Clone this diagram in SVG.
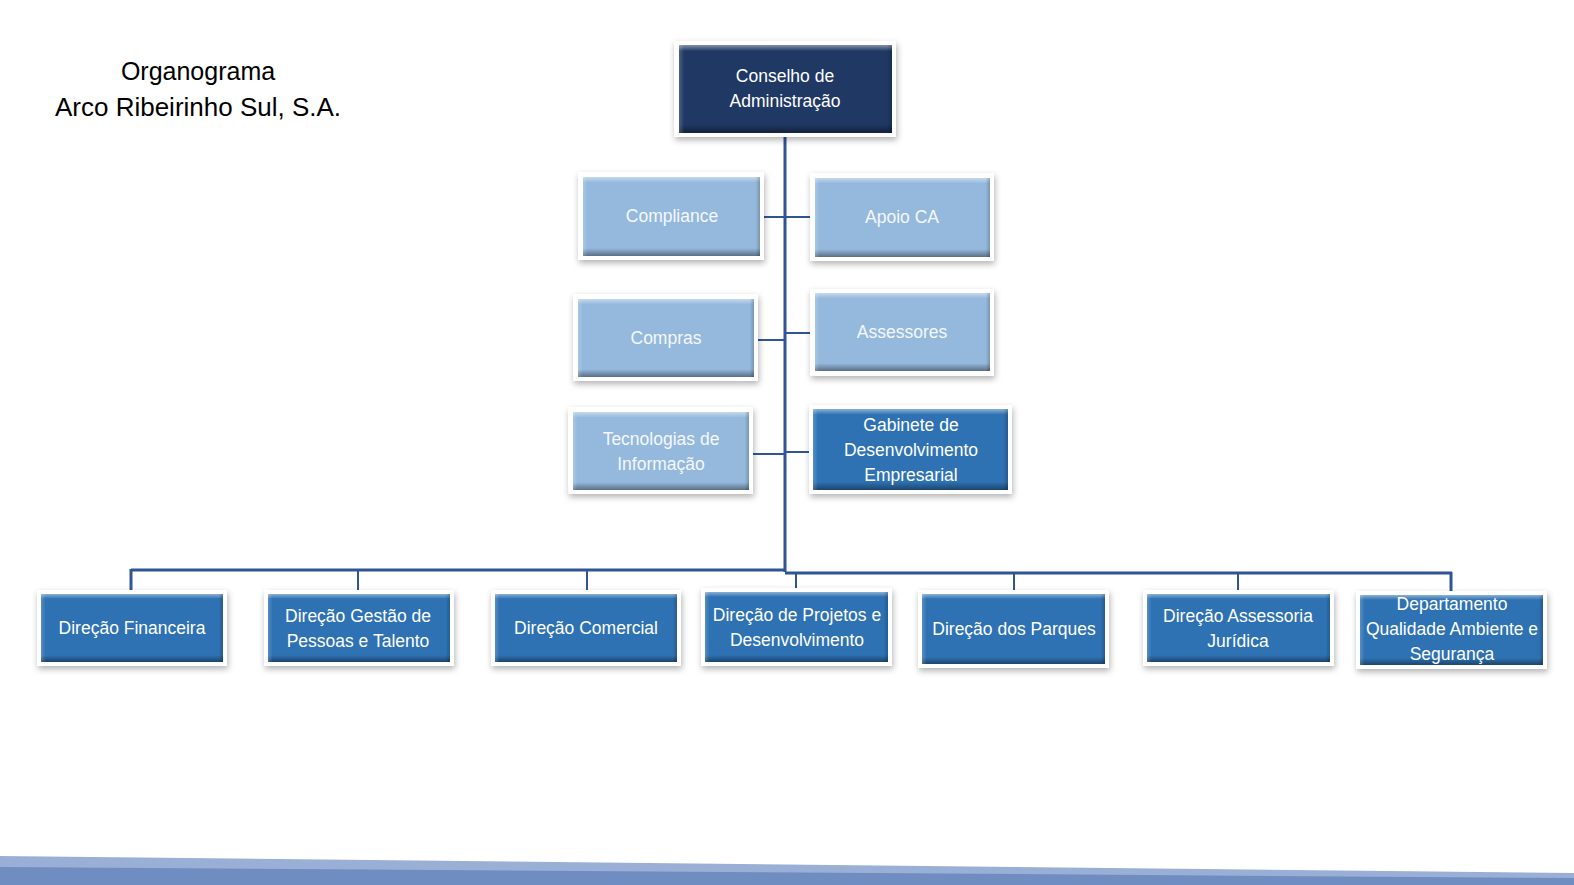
<svg xmlns="http://www.w3.org/2000/svg" width="1574" height="885" viewBox="0 0 1574 885">
<defs>
<filter id="sh" x="-10%" y="-10%" width="125%" height="135%">
<feDropShadow dx="1" dy="3" stdDeviation="3" flood-color="#000" flood-opacity="0.3"/>
</filter>
<linearGradient id="bv" x1="0" y1="0" x2="0" y2="1">
<stop offset="0" stop-color="#fff" stop-opacity="0.45"/>
<stop offset="0.07" stop-color="#fff" stop-opacity="0"/>
<stop offset="0.9" stop-color="#000" stop-opacity="0"/>
<stop offset="1" stop-color="#000" stop-opacity="0.4"/>
</linearGradient>
<linearGradient id="bh" x1="0" y1="0" x2="1" y2="0">
<stop offset="0" stop-color="#fff" stop-opacity="0.2"/>
<stop offset="0.025" stop-color="#fff" stop-opacity="0"/>
<stop offset="0.975" stop-color="#000" stop-opacity="0"/>
<stop offset="1" stop-color="#000" stop-opacity="0.2"/>
</linearGradient>
</defs>
<style>
.o{fill:#fff;filter:url(#sh)}
.nv{fill:#203864}
.lb{fill:#95b9dd}
.mb{fill:#2e72b3}
.gv{fill:url(#bv)}
.gh{fill:url(#bh)}
.t{font-family:"Liberation Sans",Arial,sans-serif;font-size:17.5px;fill:#fff;text-anchor:middle}
.tl{fill:#f4f7fb}
.ttl{font-family:"Liberation Sans",Arial,sans-serif;font-size:25px;fill:#000;text-anchor:middle}
.c{stroke:#2f5597;fill:none}
.c3{stroke-width:3}
.c2{stroke-width:2}
</style>
<rect width="1574" height="885" fill="#fff"/>
<g id="title">
<text class="ttl" x="198" y="80">Organograma</text>
<text class="ttl" x="198" y="116" textLength="286" lengthAdjust="spacingAndGlyphs">Arco Ribeirinho Sul, S.A.</text>
</g>
<g id="connectors">
<line class="c c3" x1="785" y1="137" x2="785" y2="572"/>
<line class="c c3" x1="131" y1="570" x2="786" y2="570"/>
<line class="c c3" x1="785" y1="573" x2="1452" y2="573"/>
<line class="c c3" x1="131" y1="569" x2="131" y2="590"/>
<line class="c c2" x1="358" y1="570" x2="358" y2="590"/>
<line class="c c2" x1="587" y1="570" x2="587" y2="590"/>
<line class="c c2" x1="796" y1="573" x2="796" y2="588"/>
<line class="c c2" x1="1014" y1="573" x2="1014" y2="590"/>
<line class="c c2" x1="1238" y1="573" x2="1238" y2="590"/>
<line class="c c3" x1="1451" y1="572" x2="1451" y2="591"/>
<line class="c c2" x1="764" y1="217" x2="810" y2="217"/>
<line class="c c2" x1="758" y1="340" x2="785" y2="340"/>
<line class="c c2" x1="785" y1="333" x2="810" y2="333"/>
<line class="c c2" x1="753" y1="454" x2="785" y2="454"/>
<line class="c c2" x1="785" y1="452" x2="809" y2="452"/>
</g>
<g id="conselho">
<rect class="o" x="674" y="41" width="222" height="96"/>
<rect class="nv" x="679" y="45" width="213" height="88"/>
<rect class="gv" x="679" y="45" width="213" height="88"/>
<rect class="gh" x="679" y="45" width="213" height="88"/>
<text class="t" x="785" y="82">Conselho de</text>
<text class="t" x="785" y="107">Administração</text>
</g>
<g id="compliance">
<rect class="o" x="578" y="172" width="186" height="88"/>
<rect class="lb" x="583" y="177" width="177" height="79"/>
<rect class="gv" x="583" y="177" width="177" height="79"/>
<rect class="gh" x="583" y="177" width="177" height="79"/>
<text class="t tl" x="672" y="222">Compliance</text>
</g>
<g id="apoio">
<rect class="o" x="810" y="173" width="184" height="88"/>
<rect class="lb" x="815" y="178" width="175" height="79"/>
<rect class="gv" x="815" y="178" width="175" height="79"/>
<rect class="gh" x="815" y="178" width="175" height="79"/>
<text class="t tl" x="902" y="223">Apoio CA</text>
</g>
<g id="compras">
<rect class="o" x="573" y="294" width="185" height="87"/>
<rect class="lb" x="578" y="299" width="176" height="78"/>
<rect class="gv" x="578" y="299" width="176" height="78"/>
<rect class="gh" x="578" y="299" width="176" height="78"/>
<text class="t tl" x="666" y="344">Compras</text>
</g>
<g id="assessores">
<rect class="o" x="810" y="289" width="184" height="87"/>
<rect class="lb" x="815" y="293" width="175" height="78"/>
<rect class="gv" x="815" y="293" width="175" height="78"/>
<rect class="gh" x="815" y="293" width="175" height="78"/>
<text class="t tl" x="902" y="338">Assessores</text>
</g>
<g id="tecnologias">
<rect class="o" x="568" y="407" width="185" height="87"/>
<rect class="lb" x="573" y="412" width="176" height="78"/>
<rect class="gv" x="573" y="412" width="176" height="78"/>
<rect class="gh" x="573" y="412" width="176" height="78"/>
<text class="t tl" x="661" y="445">Tecnologias de</text>
<text class="t tl" x="661" y="470">Informação</text>
</g>
<g id="gabinete">
<rect class="o" x="809" y="405" width="203" height="89"/>
<rect class="mb" x="813" y="409" width="195" height="81"/>
<rect class="gv" x="813" y="409" width="195" height="81"/>
<rect class="gh" x="813" y="409" width="195" height="81"/>
<text class="t" x="911" y="431">Gabinete de</text>
<text class="t" x="911" y="456">Desenvolvimento</text>
<text class="t" x="911" y="481">Empresarial</text>
</g>
<g id="financeira">
<rect class="o" x="37" y="590" width="190" height="76"/>
<rect class="mb" x="41" y="594" width="182" height="68"/>
<rect class="gv" x="41" y="594" width="182" height="68"/>
<rect class="gh" x="41" y="594" width="182" height="68"/>
<text class="t" x="132" y="634">Direção Financeira</text>
</g>
<g id="gestao">
<rect class="o" x="264" y="590" width="190" height="76"/>
<rect class="mb" x="268" y="594" width="182" height="68"/>
<rect class="gv" x="268" y="594" width="182" height="68"/>
<rect class="gh" x="268" y="594" width="182" height="68"/>
<text class="t" x="358" y="622">Direção Gestão de</text>
<text class="t" x="358" y="647">Pessoas e Talento</text>
</g>
<g id="comercial">
<rect class="o" x="491" y="590" width="190" height="76"/>
<rect class="mb" x="495" y="594" width="182" height="68"/>
<rect class="gv" x="495" y="594" width="182" height="68"/>
<rect class="gh" x="495" y="594" width="182" height="68"/>
<text class="t" x="586" y="634">Direção Comercial</text>
</g>
<g id="projetos">
<rect class="o" x="701" y="588" width="191" height="78"/>
<rect class="mb" x="705" y="592" width="183" height="70"/>
<rect class="gv" x="705" y="592" width="183" height="70"/>
<rect class="gh" x="705" y="592" width="183" height="70"/>
<text class="t" x="797" y="621">Direção de Projetos e</text>
<text class="t" x="797" y="646">Desenvolvimento</text>
</g>
<g id="parques">
<rect class="o" x="918" y="590" width="191" height="78"/>
<rect class="mb" x="922" y="594" width="183" height="70"/>
<rect class="gv" x="922" y="594" width="183" height="70"/>
<rect class="gh" x="922" y="594" width="183" height="70"/>
<text class="t" x="1014" y="635">Direção dos Parques</text>
</g>
<g id="juridica">
<rect class="o" x="1143" y="590" width="191" height="76"/>
<rect class="mb" x="1147" y="594" width="183" height="68"/>
<rect class="gv" x="1147" y="594" width="183" height="68"/>
<rect class="gh" x="1147" y="594" width="183" height="68"/>
<text class="t" x="1238" y="622">Direção Assessoria</text>
<text class="t" x="1238" y="647">Jurídica</text>
</g>
<g id="departamento">
<rect class="o" x="1356" y="591" width="191" height="78"/>
<rect class="mb" x="1360" y="595" width="183" height="70"/>
<rect class="gv" x="1360" y="595" width="183" height="70"/>
<rect class="gh" x="1360" y="595" width="183" height="70"/>
<text class="t" x="1452" y="610">Departamento</text>
<text class="t" x="1452" y="635">Qualidade Ambiente e</text>
<text class="t" x="1452" y="660">Segurança</text>
</g>
<g id="band">
<polygon points="0,856 1574,873 1574,885 0,885" fill="#9aafd6"/>
<polygon points="0,867 1574,878 1574,885 0,885" fill="#6f8dc1"/>
</g>
</svg>
